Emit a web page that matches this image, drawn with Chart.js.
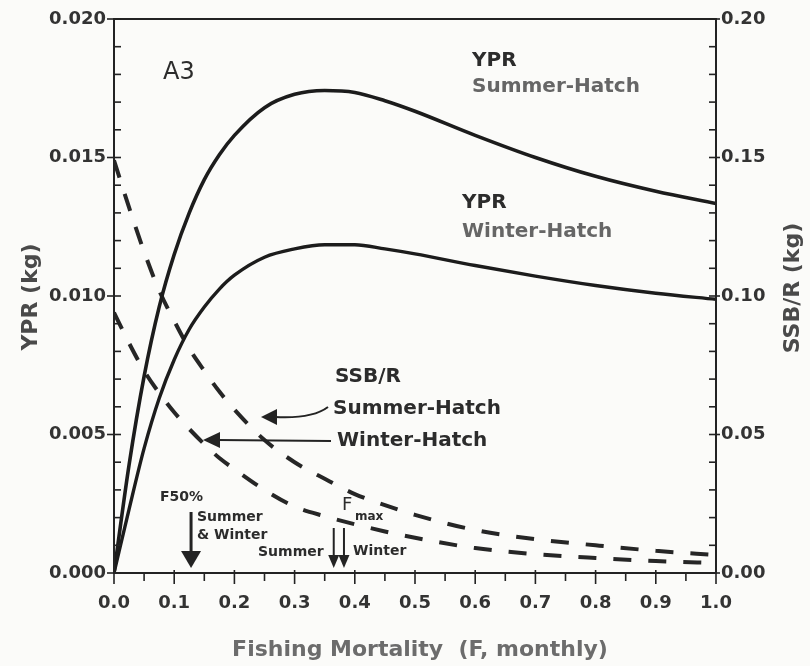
<!DOCTYPE html>
<html><head><meta charset="utf-8">
<script src="https://cdn.jsdelivr.net/npm/chart.js@4.4.1/dist/chart.umd.min.js"></script>
<style>html,body{margin:0;padding:0;background:#fbfbf9;}#wrap{width:810px;height:666px;}</style>
</head><body><div id="wrap"><canvas id="c" width="810" height="666"></canvas></div>
<script>
// ---- data ----
const F = [0,0.025,0.05,0.075,0.1,0.125,0.15,0.175,0.2,0.25,0.3,0.35,0.4,0.45,0.5,0.6,0.7,0.8,0.9,1.0];
const yprSummer = [0,0.0039,0.0071,0.0096,0.0115,0.0130,0.0142,0.0151,0.0158,0.0168,0.01728,0.01742,0.01735,0.01705,0.01667,0.0158,0.0150,0.01432,0.01378,0.01334];
const yprWinter = [0,0.0023,0.0045,0.0063,0.0077,0.0088,0.0096,0.01025,0.01075,0.0114,0.0117,0.01185,0.01185,0.0117,0.01152,0.0111,0.01072,0.01038,0.0101,0.00988];
const ssbSummer = [0.149,0.132,0.116,0.102,0.091,0.081,0.073,0.0655,0.059,0.048,0.040,0.034,0.0285,0.0245,0.021,0.0155,0.0122,0.0100,0.0080,0.0065];
const ssbWinter = [0.094,0.083,0.073,0.065,0.058,0.052,0.0465,0.0415,0.0375,0.030,0.024,0.0205,0.0176,0.0150,0.0127,0.0090,0.0068,0.0054,0.0043,0.0036];
const xTickValues = [0,0.1,0.2,0.3,0.4,0.5,0.6,0.7,0.8,0.9,1.0];
const yprTickValues = [0,0.005,0.010,0.015,0.020];
const ssbTickValues = [0,0.05,0.10,0.15,0.20];
const fF50 = 0.128;        // F50% (summer & winter)
const fFmaxSummer = 0.365; // Fmax summer
const fFmaxWinter = 0.382; // Fmax winter

const pts = (xs, ys) => xs.map((x, i) => ({x, y: ys[i]}));
const FONT = '"DejaVu Sans", sans-serif';
const INK = '#232323';

const deco = {
  id: 'deco',
  beforeDraw(chart) {
    const c = chart.ctx; c.save(); c.fillStyle = '#fbfbf9'; c.fillRect(0, 0, chart.width, chart.height); c.restore();
  },
  afterDraw(chart) {
    const ctx = chart.ctx, a = chart.chartArea;
    const xs = chart.scales.x, ys = chart.scales.y, y2 = chart.scales.y2;
    ctx.save();
    // frame
    ctx.strokeStyle = INK; ctx.lineWidth = 2;
    ctx.strokeRect(a.left, a.top, a.right - a.left, a.bottom - a.top);
    // ticks
    ctx.lineWidth = 1.6;
    for (let i = 0; i <= 20; i++) {
      const py = ys.getPixelForValue(i * 0.001), major = i % 5 === 0;
      ctx.beginPath(); ctx.moveTo(a.left - (major ? 7 : 0), py); ctx.lineTo(a.left + 7, py); ctx.stroke();
    }
    for (let i = 0; i <= 20; i++) {
      const py = y2.getPixelForValue(i * 0.01), major = i % 5 === 0;
      ctx.beginPath(); ctx.moveTo(a.right - 7, py); ctx.lineTo(a.right + (major ? 4 : 0), py); ctx.stroke();
    }
    for (let i = 0; i <= 20; i++) {
      const px = xs.getPixelForValue(i * 0.05), major = i % 2 === 0;
      ctx.beginPath(); ctx.moveTo(px, a.bottom - (major ? 3 : 0)); ctx.lineTo(px, a.bottom + (major ? 11 : 8)); ctx.stroke();
    }
    // axis titles
    ctx.fillStyle = '#6c6c6c';
    ctx.font = 'bold 22px ' + FONT; ctx.textAlign = 'center'; ctx.textBaseline = 'middle';
    ctx.fillText('Fishing Mortality  (F, monthly)', 420, 650);
    ctx.fillStyle = '#4a4a4a';
    ctx.save(); ctx.translate(31, 297); ctx.rotate(-Math.PI / 2); ctx.fillText('YPR (kg)', 0, 0); ctx.restore();
    ctx.save(); ctx.translate(793, 288); ctx.rotate(-Math.PI / 2); ctx.fillText('SSB/R (kg)', 0, 0); ctx.restore();

    // annotations
    ctx.textAlign = 'left';
    ctx.fillStyle = '#2c2c2c';
    ctx.font = '24px ' + FONT;
    ctx.fillText('A3', 163, 73);
    ctx.font = 'bold 20px ' + FONT;
    ctx.fillStyle = '#2c2c2c';
    ctx.fillText('YPR', 472, 61);
    ctx.fillText('YPR', 462, 203);
    ctx.fillStyle = '#666666';
    ctx.fillText('Summer-Hatch', 472, 87);
    ctx.fillText('Winter-Hatch', 462, 232);
    ctx.fillStyle = '#2c2c2c';
    ctx.fillText('SSB/R', 335, 377);
    ctx.fillText('Summer-Hatch', 333, 409);
    ctx.fillText('Winter-Hatch', 337, 441);

    // SSB/R arrows
    ctx.strokeStyle = INK; ctx.fillStyle = INK; ctx.lineWidth = 2;
    ctx.beginPath(); ctx.moveTo(275, 417); ctx.quadraticCurveTo(312, 419, 328, 407); ctx.stroke();
    ctx.beginPath(); ctx.moveTo(261, 417); ctx.lineTo(277, 409); ctx.lineTo(277, 425); ctx.closePath(); ctx.fill();
    ctx.beginPath(); ctx.moveTo(218, 440); ctx.lineTo(331, 441); ctx.stroke();
    ctx.beginPath(); ctx.moveTo(203, 440); ctx.lineTo(220, 432); ctx.lineTo(220, 448); ctx.closePath(); ctx.fill();

    // F50% arrow
    const xb = a.bottom - 5;
    const p50 = xs.getPixelForValue(fF50);
    ctx.lineWidth = 3;
    ctx.beginPath(); ctx.moveTo(p50, 512); ctx.lineTo(p50, xb - 14); ctx.stroke();
    ctx.beginPath(); ctx.moveTo(p50, xb); ctx.lineTo(p50 - 10, xb - 17); ctx.lineTo(p50 + 10, xb - 17); ctx.closePath(); ctx.fill();
    // Fmax arrows
    ctx.lineWidth = 2;
    [fFmaxSummer, fFmaxWinter].forEach(f => {
      const p = xs.getPixelForValue(f);
      ctx.beginPath(); ctx.moveTo(p, 528); ctx.lineTo(p, xb - 10); ctx.stroke();
      ctx.beginPath(); ctx.moveTo(p, xb); ctx.lineTo(p - 5.5, xb - 13); ctx.lineTo(p + 5.5, xb - 13); ctx.closePath(); ctx.fill();
    });
    ctx.font = 'bold 14px ' + FONT; ctx.fillStyle = '#2c2c2c';
    ctx.fillText('F50%', 160, 497);
    ctx.fillText('Summer', 197, 517);
    ctx.fillText('& Winter', 197, 535);
    ctx.fillText('Summer', 258, 552);
    ctx.fillText('Winter', 353, 551);
    ctx.font = '18px ' + FONT;
    ctx.fillText('F', 342, 505);
    ctx.font = 'bold 12px ' + FONT;
    ctx.fillText('max', 355, 517);
    ctx.restore();
  }
};

new Chart(document.getElementById('c'), {
  type: 'line',
  data: {
    datasets: [
      {label: 'YPR Summer-Hatch', data: pts(F, yprSummer), yAxisID: 'y', borderColor: '#1c1c1c', borderWidth: 3.6},
      {label: 'YPR Winter-Hatch', data: pts(F, yprWinter), yAxisID: 'y', borderColor: '#1c1c1c', borderWidth: 3.4},
      {label: 'SSB/R Summer-Hatch', data: pts(F, ssbSummer), yAxisID: 'y2', borderColor: '#262626', borderWidth: 4, borderDash: [18, 17]},
      {label: 'SSB/R Winter-Hatch', data: pts(F, ssbWinter), yAxisID: 'y2', borderColor: '#262626', borderWidth: 4, borderDash: [18, 17]}
    ]
  },
  options: {
    responsive: false, animation: false, devicePixelRatio: 1,
    layout: {padding: {top: 19, left: 0, right: 0, bottom: 0}},
    elements: {point: {radius: 0}, line: {cubicInterpolationMode: 'monotone', borderCapStyle: 'butt'}},
    plugins: {legend: {display: false}, tooltip: {enabled: false}},
    scales: {
      x: {
        type: 'linear', min: 0, max: 1,
        afterFit: s => { s.height = 93; },
        afterBuildTicks: s => { s.ticks = xTickValues.map(v => ({value: v})); },
        grid: {display: false, drawTicks: false}, border: {display: false},
        ticks: {padding: 20, color: '#333', font: {family: FONT, weight: 'bold', size: 18}, callback: v => Number(v).toFixed(1), maxRotation: 0, autoSkip: false}
      },
      y: {
        type: 'linear', position: 'left', min: 0, max: 0.02,
        afterFit: s => { s.width = 114; },
        afterBuildTicks: s => { s.ticks = yprTickValues.map(v => ({value: v})); },
        grid: {display: false, drawTicks: false}, border: {display: false},
        ticks: {padding: 8, color: '#333', font: {family: FONT, weight: 'bold', size: 18}, callback: v => Number(v).toFixed(3)}
      },
      y2: {
        type: 'linear', position: 'right', min: 0, max: 0.2,
        afterFit: s => { s.width = 94; },
        afterBuildTicks: s => { s.ticks = ssbTickValues.map(v => ({value: v})); },
        grid: {display: false, drawTicks: false}, border: {display: false},
        ticks: {padding: 5, color: '#333', font: {family: FONT, weight: 'bold', size: 18}, callback: v => Number(v).toFixed(2)}
      }
    }
  },
  plugins: [deco]
});
</script>
</body></html>
